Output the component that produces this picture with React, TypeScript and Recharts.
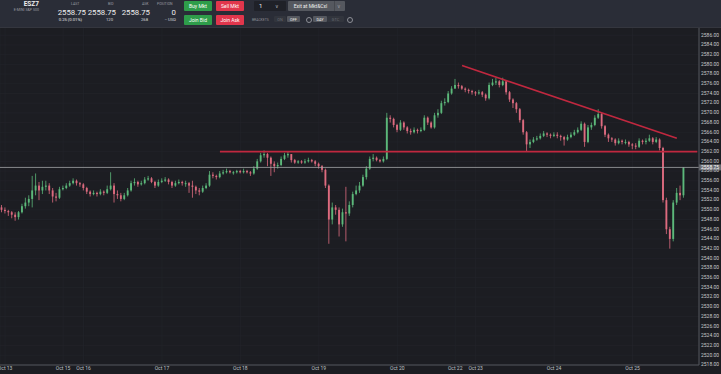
import React from "react";
import {
  ComposedChart,
  Bar,
  XAxis,
  YAxis,
  CartesianGrid,
  ReferenceLine,
} from "recharts";

// hourly ESZ7 candles, Oct 12 23:00 -> Oct 25 15:00 (open = previous close)
const firstOpen = 2550.5;

const closes = [
  2550.0, 2549.75, 2549.5, 2549.0, 2548.5, 2549.5, 2550.75, 2551.5, 2552.25, 2554.0, 2555.0, 2554.0, 2554.75, 2555.0, 2554.0, 2552.75, 2552.5, 2554.25,
  2554.5, 2555.0, 2555.5, 2556.0, 2555.5, 2555.25,
  2554.5, 2553.75, 2553.25, 2553.5, 2553.25, 2553.75, 2553.5, 2554.25, 2555.0, 2553.25, 2553.0, 2552.25, 2553.0, 2554.0, 2555.5, 2555.75, 2555.25,
  2555.5, 2556.25, 2556.5, 2555.75, 2555.0, 2555.75,
  2556.0, 2556.25, 2555.75, 2555.0, 2555.5, 2555.75, 2555.5, 2555.5, 2555.0, 2554.75, 2554.0, 2553.75, 2554.5, 2555.0, 2557.25, 2557.0, 2556.75,
  2557.5, 2557.75, 2558.0, 2557.75, 2557.75, 2558.0,
  2557.75, 2558.0, 2557.75, 2557.5, 2558.5, 2560.0, 2561.25, 2561.5, 2560.75, 2559.5, 2559.0, 2559.25, 2560.5, 2561.25, 2561.5, 2560.25, 2559.75,
  2560.0, 2559.75, 2560.0, 2560.25, 2560.0, 2559.5,
  2559.0, 2558.25, 2555.0, 2548.0, 2550.5, 2550.0, 2547.0, 2549.5, 2549.25, 2551.0, 2553.25, 2554.0, 2555.0, 2556.75, 2558.5, 2560.5, 2560.75,
  2560.25, 2560.0, 2560.5, 2569.0, 2568.75, 2567.5,
  2566.5, 2568.0, 2567.0, 2566.25, 2566.0, 2566.5, 2566.25, 2566.5, 2569.0, 2568.0, 2567.0, 2569.5, 2570.0, 2572.0, 2572.25, 2574.0, 2575.0,
  2575.75, 2575.5, 2575.0, 2574.75, 2574.5, 2574.25,
  2574.0, 2574.25, 2573.75, 2573.0, 2575.75, 2576.25, 2576.5, 2575.75, 2576.5, 2574.25, 2572.75, 2572.0, 2570.75, 2568.5, 2566.0, 2563.5, 2564.0,
  2564.5, 2564.75, 2565.25, 2565.75, 2565.5, 2565.25,
  2565.5, 2565.25, 2565.0, 2564.5, 2565.0, 2565.5, 2566.0, 2566.5, 2567.75, 2564.0, 2567.0, 2567.5, 2569.0, 2569.75, 2567.25, 2565.5, 2564.75,
  2564.5, 2563.75, 2564.25, 2564.0, 2564.0, 2563.5,
  2563.25, 2563.0, 2564.25, 2564.0, 2564.25, 2564.75, 2564.0, 2564.5, 2562.75, 2552.0, 2546.0, 2544.0, 2551.5, 2553.5, 2553.0, 2558.75,
];

const highs = [
  2551.0, 2550.5, 2550.0, 2549.75, 2549.5, 2549.75, 2551.25, 2552.5, 2553.0, 2557.0, 2557.5, 2555.75, 2556.0, 2556.0, 2555.5, 2554.5, 2553.5, 2554.75,
  2555.0, 2555.5, 2556.0, 2556.5, 2556.25, 2555.75,
  2555.5, 2554.75, 2554.0, 2554.0, 2553.75, 2554.25, 2554.0, 2555.0, 2557.75, 2555.5, 2554.0, 2553.5, 2553.5, 2554.5, 2556.0, 2556.5, 2556.0,
  2556.0, 2556.75, 2557.0, 2556.75, 2556.0, 2556.25,
  2556.5, 2556.75, 2556.5, 2556.0, 2556.0, 2556.25, 2556.0, 2556.0, 2555.75, 2556.0, 2555.0, 2554.5, 2555.0, 2555.5, 2558.0, 2557.75, 2557.25,
  2558.0, 2558.25, 2558.5, 2558.25, 2558.0, 2558.25,
  2558.25, 2558.5, 2558.25, 2558.0, 2559.0, 2560.5, 2561.75, 2562.25, 2561.75, 2561.0, 2560.0, 2559.75, 2561.0, 2561.75, 2562.0, 2561.5, 2560.5,
  2560.25, 2560.25, 2560.5, 2560.75, 2560.5, 2560.25,
  2559.75, 2559.25, 2558.5, 2555.25, 2551.5, 2551.0, 2550.5, 2550.25, 2554.75, 2551.75, 2553.75, 2555.0, 2555.75, 2557.25, 2559.0, 2561.0, 2561.5,
  2561.0, 2560.5, 2561.0, 2570.0, 2569.5, 2569.0,
  2567.75, 2568.5, 2568.25, 2567.25, 2566.75, 2567.0, 2566.75, 2567.0, 2569.5, 2569.25, 2568.25, 2570.0, 2570.75, 2572.5, 2573.0, 2574.5, 2575.5,
  2577.0, 2576.25, 2575.75, 2575.25, 2575.0, 2574.75,
  2574.5, 2574.75, 2574.5, 2574.0, 2576.25, 2577.0, 2577.25, 2576.75, 2577.25, 2576.75, 2574.5, 2573.0, 2572.25, 2571.0, 2568.75, 2566.25, 2564.5,
  2565.0, 2565.25, 2565.75, 2566.25, 2566.0, 2565.75,
  2566.0, 2566.0, 2565.5, 2565.25, 2565.5, 2566.0, 2566.5, 2567.0, 2568.25, 2568.0, 2567.5, 2568.0, 2569.5, 2570.75, 2570.0, 2567.5, 2565.75,
  2565.0, 2564.75, 2564.75, 2564.5, 2564.5, 2564.25,
  2563.75, 2563.75, 2564.75, 2564.5, 2564.75, 2565.5, 2565.0, 2565.0, 2564.75, 2563.0, 2552.5, 2546.5, 2552.0, 2554.5, 2555.0, 2558.75,
];

const lows = [
  2549.5, 2549.25, 2548.75, 2548.25, 2547.75, 2548.0, 2549.25, 2550.25, 2550.75, 2550.5, 2553.0, 2552.0, 2553.25, 2554.0, 2553.25, 2551.5, 2551.75, 2552.25,
  2554.0, 2554.25, 2554.75, 2555.25, 2555.0, 2554.75,
  2554.0, 2553.25, 2552.75, 2553.0, 2552.75, 2553.0, 2553.0, 2553.25, 2554.0, 2551.5, 2552.25, 2551.75, 2552.0, 2552.75, 2553.75, 2555.0, 2554.75,
  2555.0, 2555.25, 2556.0, 2555.5, 2554.5, 2554.75,
  2555.5, 2555.75, 2555.25, 2554.5, 2554.75, 2555.25, 2555.0, 2554.75, 2553.5, 2552.5, 2553.25, 2553.0, 2553.5, 2554.25, 2554.75, 2556.5, 2556.25,
  2556.5, 2557.25, 2557.5, 2557.5, 2557.25, 2557.5,
  2557.5, 2557.5, 2557.5, 2557.0, 2557.25, 2558.25, 2559.75, 2560.75, 2559.0, 2557.0, 2557.75, 2558.5, 2559.0, 2560.25, 2560.75, 2559.75, 2559.5,
  2559.5, 2559.5, 2559.5, 2559.75, 2559.75, 2559.0,
  2558.5, 2557.75, 2554.5, 2543.0, 2547.0, 2549.0, 2544.5, 2546.5, 2543.5, 2548.75, 2550.5, 2553.0, 2553.5, 2554.75, 2556.25, 2558.25, 2560.0,
  2560.0, 2559.75, 2559.75, 2560.25, 2568.0, 2567.0,
  2566.0, 2566.25, 2566.5, 2565.75, 2565.5, 2565.75, 2565.75, 2566.0, 2566.25, 2567.5, 2566.75, 2566.75, 2569.0, 2569.75, 2571.5, 2572.0, 2573.75,
  2575.0, 2575.0, 2574.75, 2574.25, 2574.0, 2573.75,
  2573.5, 2573.75, 2573.25, 2572.5, 2572.75, 2575.5, 2575.75, 2575.25, 2575.5, 2573.75, 2572.25, 2571.0, 2570.0, 2568.0, 2565.5, 2562.0, 2562.75,
  2563.75, 2564.25, 2564.5, 2565.0, 2565.0, 2564.75,
  2565.0, 2564.75, 2564.25, 2563.25, 2564.25, 2564.75, 2565.25, 2565.75, 2566.25, 2563.0, 2563.75, 2566.5, 2567.25, 2568.75, 2566.75, 2565.0, 2564.0,
  2564.0, 2563.25, 2563.5, 2563.5, 2563.5, 2563.0,
  2562.5, 2562.5, 2562.75, 2563.5, 2563.5, 2564.0, 2563.5, 2563.75, 2562.25, 2551.5, 2545.0, 2542.0, 2543.5, 2551.0, 2552.0, 2552.5,
];

// empty slots after the last candle (chart's right-hand space)
const futureSlots = 4;

const tickIndex = [1, 18, 24, 47, 70, 93, 116, 133, 139, 162, 185];
const tickLabels = ["Oct 13", "Oct 15", "Oct 16", "Oct 17", "Oct 18", "Oct 19", "Oct 20", "Oct 22", "Oct 23", "Oct 24", "Oct 25"];

const priceTicks = [
  2518, 2520, 2522, 2524, 2526, 2528, 2530, 2532, 2534, 2536, 2538, 2540,
  2542, 2544, 2546, 2548, 2550, 2552, 2554, 2556, 2558, 2560, 2562, 2564,
  2566, 2568, 2570, 2572, 2574, 2576, 2578, 2580, 2582, 2584, 2586,
];

const lastPrice = 2558.75;
const supportLevel = 2562;
const supportFrom = 64;
const trendFrom = 135;
const trendFromPrice = 2579.75;
const trendTo = 198;
const trendToPrice = 2564.75;

const UP = "#5cb87a";
const DOWN = "#dd6b7f";
const LINE_RED = "#c0283f";
const BG = "#1c1d22";
const HEADER = "#2a2d37";

const data = Array.from({ length: closes.length + futureSlots }, (_, i) =>
  i < closes.length
    ? {
        idx: i,
        o: i === 0 ? firstOpen : closes[i - 1],
        h: highs[i],
        l: lows[i],
        c: closes[i],
      }
    : { idx: i, o: null, h: null, l: null, c: null }
);

function Candle(props: any) {
  const { x, y, width, height, payload } = props;
  if (!payload || payload.c == null || !isFinite(y) || !isFinite(height)) return null;
  const { o, c, h, l } = payload;
  const top = Math.min(y, y + height);
  const span = Math.abs(height);
  const ppp = h > l ? span / (h - l) : 0;
  const color = c >= o ? UP : DOWN;
  const bodyTop = top + (h - Math.max(o, c)) * ppp;
  const bodyH = Math.max(1, Math.abs(o - c) * ppp);
  const cx = x + width / 2;
  const bw = Math.max(1, width * 0.62);
  return (
    <g>
      <line x1={cx} x2={cx} y1={top} y2={top + span} stroke={color} strokeWidth={0.8} />
      <rect x={cx - bw / 2} y={bodyTop} width={bw} height={bodyH} fill={color} />
    </g>
  );
}

function XTick(props: any) {
  const { x, y, payload } = props;
  const k = tickIndex.indexOf(payload.value);
  return (
    <text x={x} y={y + 4} fontSize={5} fill="#bfc1c6" textAnchor="middle" dominantBaseline="middle" fontFamily="Roboto, sans-serif">
      {k >= 0 ? tickLabels[k] : ""}
    </text>
  );
}

function YTick(props: any) {
  const { x, y, payload } = props;
  return (
    <text x={x + 2} y={y} fontSize={5} fill="#c8c9cd" textAnchor="start" dominantBaseline="middle" fontFamily="Roboto, sans-serif">
      {Number(payload.value).toFixed(2)}
    </text>
  );
}

function PriceTag(props: any) {
  const vb = props.viewBox || {};
  const right = (vb.x || 0) + (vb.width || 0);
  return (
    <g>
      <rect x={right} y={vb.y - 3} width={22} height={6} fill="#6b6d73" />
      <text x={right + 2} y={vb.y} fontSize={5} fill="#ffffff" dominantBaseline="middle" fontFamily="Roboto, sans-serif">
        {lastPrice.toFixed(2)}
      </text>
    </g>
  );
}

const font = "Roboto, sans-serif";

function T({ l, r, t, s, c, w, children }: any) {
  const style: React.CSSProperties = {
    position: "absolute",
    top: t,
    fontSize: s,
    color: c,
    fontWeight: w || 400,
    lineHeight: 1,
    whiteSpace: "nowrap",
    fontFamily: font,
  };
  if (l != null) style.left = l;
  if (r != null) style.right = 721 - r;
  return <div style={style}>{children}</div>;
}

function Btn({ l, t, w, h, bg, c, s, children }: any) {
  return (
    <div
      style={{
        position: "absolute",
        left: l,
        top: t,
        width: w,
        height: h,
        background: bg,
        color: c || "#fff",
        fontSize: s || 5,
        fontFamily: font,
        display: "flex",
        alignItems: "center",
        justifyContent: "center",
        borderRadius: 1,
        whiteSpace: "nowrap",
      }}
    >
      {children}
    </div>
  );
}

function Header() {
  return (
    <div style={{ position: "absolute", left: 0, top: 0, width: 721, height: 27, background: HEADER, borderBottom: "1px solid #34363e" }}>
      <T r={39} t={1} s={6.5} c="#f0f0f0" w={700}>ESZ7</T>
      <T r={39} t={9} s={3.6} c="#9a9ca3">E-MINI S&amp;P 500</T>

      <T l={71} t={3} s={3.5} c="#9a9ca3">LAST</T>
      <T r={86} t={9} s={7.8} c="#eeeeee">2558.75</T>
      <T r={82} t={17.5} s={4.2} c="#e6e6e6">0.25 (0.01%)</T>

      <T l={108} t={3} s={3.5} c="#9a9ca3">BID</T>
      <T r={116} t={9} s={7.8} c="#eeeeee">2558.75</T>
      <T r={113} t={17.5} s={4.2} c="#d8d8d8">120</T>

      <T l={142} t={3} s={3.5} c="#9a9ca3">ASK</T>
      <T r={150} t={9} s={7.8} c="#eeeeee">2558.75</T>
      <T r={148} t={17.5} s={4.2} c="#d8d8d8">268</T>

      <T l={157} t={3} s={3.5} c="#9a9ca3">POSITION</T>
      <T r={176} t={9} s={7.8} c="#eeeeee">0</T>
      <T r={176} t={17.5} s={4.2} c="#d8d8d8">-- USD</T>

      <Btn l={184} t={1} w={28} h={10} bg="#2e9d4a">Buy Mkt</Btn>
      <Btn l={216} t={1} w={28} h={10} bg="#e1364c">Sell Mkt</Btn>
      <Btn l={184} t={15} w={28} h={10} bg="#2e9d4a">Join Bid</Btn>
      <Btn l={216} t={15} w={28} h={10} bg="#e1364c">Join Ask</Btn>

      <div style={{ position: "absolute", left: 254, top: 1, width: 32, height: 10, background: "#1f2128", borderRadius: 1 }} />
      <T l={259} t={3} s={6} c="#f0f0f0">1</T>
      <T l={275} t={3.5} s={5} c="#b0b2b8">∨</T>

      <Btn l={288} t={1} w={57} h={10} bg="#55585f" c="#eeeeee">
        <span style={{ marginRight: 12 }}>Exit at Mkt&amp;Cxl</span>
      </Btn>
      <div style={{ position: "absolute", left: 334, top: 1, width: 1, height: 10, background: "#45484e" }} />
      <T l={337} t={3.5} s={5} c="#9a9ca3">∨</T>

      <T l={252} t={18.5} s={3.4} c="#8d8f96">BRACKETS</T>
      <Btn l={274} t={16} w={12} h={6} bg="#32353d" c="#6c6e75" s={3.8}>ON</Btn>
      <Btn l={287} t={16} w={13} h={6} bg="#55585f" c="#eeeeee" s={3.8}>OFF</Btn>
      <div style={{ position: "absolute", left: 306, top: 17, width: 4, height: 4, borderRadius: 3, border: "1px solid #8d8f96" }} />
      <Btn l={313} t={16} w={14} h={6} bg="#55585f" c="#eeeeee" s={3.8}>DAY</Btn>
      <Btn l={327} t={16} w={17} h={6} bg="#32353d" c="#6c6e75" s={3.8}>GTC</Btn>
      <div style={{ position: "absolute", left: 347, top: 17, width: 4, height: 4, borderRadius: 3, border: "1px solid #8d8f96" }} />
    </div>
  );
}

export default function App() {
  return (
    <div style={{ position: "absolute", left: 0, top: 0, width: 721, height: 374, background: BG, overflow: "hidden" }}>
      <ComposedChart
        width={721}
        height={374}
        data={data}
        margin={{ top: 28, right: 0, bottom: 0, left: 0 }}
        barCategoryGap={0}
        style={{ position: "absolute", left: 0, top: 0 }}
      >
        <CartesianGrid stroke="#24252b" strokeWidth={0.6} horizontalValues={priceTicks} />
        <XAxis
          dataKey="idx"
          type="category"
          ticks={tickIndex}
          interval={0}
          height={9}
          tickSize={0}
          tickMargin={0}
          tickLine={false}
          axisLine={{ stroke: "#55575d" }}
          tick={<XTick />}
        />
        <YAxis
          orientation="right"
          domain={[2518, 2587.5]}
          ticks={priceTicks}
          allowDataOverflow
          width={22}
          tickSize={0}
          tickMargin={0}
          tickLine={false}
          axisLine={{ stroke: "#55575d" }}
          tick={<YTick />}
          interval={0}
        />
        <Bar
          dataKey={(d: any) => (d.c == null ? null : [d.l, d.h])}
          shape={(p: any) => <Candle {...p} />}
          isAnimationActive={false}
        />
        <ReferenceLine y={lastPrice} stroke="#a3a4a8" strokeWidth={0.8} label={<PriceTag />} />
        <ReferenceLine
          segment={[
            { x: supportFrom, y: supportLevel },
            { x: closes.length + futureSlots - 1, y: supportLevel },
          ]}
          stroke={LINE_RED}
          strokeWidth={1.6}
        />
        <ReferenceLine
          segment={[
            { x: trendFrom, y: trendFromPrice },
            { x: trendTo, y: trendToPrice },
          ]}
          stroke={LINE_RED}
          strokeWidth={1.6}
        />
      </ComposedChart>
      <Header />
    </div>
  );
}
